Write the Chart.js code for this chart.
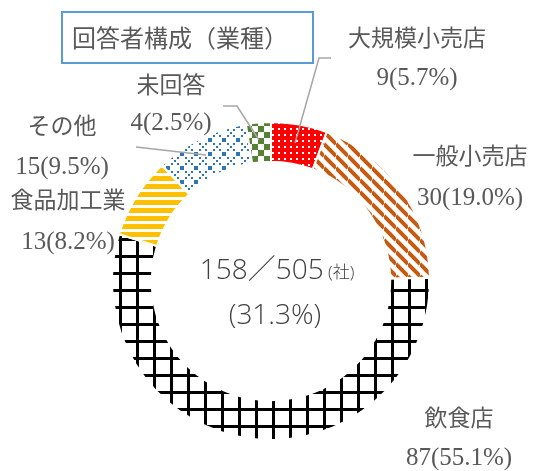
<!DOCTYPE html>
<html>
<head>
<meta charset="utf-8">
<script src="https://cdn.jsdelivr.net/npm/chart.js@4.4.0/dist/chart.umd.min.js"></script>
<style>
  html, body { margin: 0; padding: 0; background: #fff; }
  #wrap { width: 533px; height: 471px; position: relative; }
</style>
</head>
<body>
<div id="wrap"><canvas id="graficoGyoshu"></canvas></div>
<script>
// datos
const categorias = ['大規模小売店', '一般小売店', '飲食店', '食品加工業', 'その他', '未回答'];
const valores = [9, 30, 87, 13, 15, 4];
const respondidos = [158];
const totalEmpresas = [505];
const titulo = '回答者構成（業種）';

// patrones de relleno
function patron(size, draw) {
    const c = document.createElement('canvas');
    c.width = size; c.height = size;
    const ctx = c.getContext('2d');
    draw(ctx, size);
    return ctx.createPattern(c, 'repeat');
}

const pRojo = patron(6, (ctx, s) => {
    ctx.fillStyle = '#ff0000';
    ctx.fillRect(0, 0, s, s);
    ctx.fillStyle = '#ffffff';
    ctx.fillRect(2, 2, 2, 2);
});
const pMarron = patron(12, (ctx, s) => {
    ctx.strokeStyle = '#c55a11';
    ctx.lineWidth = 4;
    for (let k = -1; k <= 1; k++) {
        ctx.beginPath();
        ctx.moveTo(0, k * s);
        ctx.lineTo(s, s + k * s);
        ctx.stroke();
    }
});
const pGrilla = patron(17, (ctx, s) => {
    ctx.fillStyle = '#000000';
    ctx.fillRect(0, 0, 3, s);
    ctx.fillRect(0, 0, s, 3);
});
const pAmarillo = patron(8, (ctx, s) => {
    ctx.fillStyle = '#ffc000';
    ctx.fillRect(0, 0, s, 5);
});
const pAzul = patron(14, (ctx, s) => {
    ctx.fillStyle = '#2e75b6';
    for (let t = 0; t < s; t += 3) {
        ctx.fillRect(t, t, 2, 2);
        ctx.fillRect(t, s - 2 - t, 2, 2);
    }
});
const pVerde = patron(12, (ctx, s) => {
    ctx.fillStyle = '#548235';
    ctx.fillRect(0, 0, 6, 6);
    ctx.fillRect(6, 6, 6, 6);
});

// posiciones de etiquetas [x, y nombre, y valor]
const posEtiquetas = [
    [417, 40, 78],
    [470, 158, 198],
    [459, 420, 458],
    [68, 202, 242],
    [62, 128, 167],
    [171, 87, 123]
];
const lineasGuia = [
    [[331, 58], [319, 58], [295, 143]],
    null, null, null,
    [[136, 147], [206, 155]],
    [[223, 106], [237, 106], [259, 140]]
];

const textos = {
    id: 'textos',
    afterDraw(chart) {
        const ctx = chart.ctx;
        const total = valores.reduce((a, b) => a + b, 0);
        ctx.save();

        // titulo
        ctx.strokeStyle = '#5b9bd5';
        ctx.lineWidth = 2;
        ctx.strokeRect(62, 12, 251, 51);
        ctx.fillStyle = '#595959';
        ctx.font = '24px "Noto Sans CJK JP"';
        ctx.textAlign = 'center';
        ctx.textBaseline = 'middle';
        ctx.fillText(titulo, 180, 38);

        // lineas guia
        ctx.strokeStyle = '#a6a6a6';
        ctx.lineWidth = 1.5;
        lineasGuia.forEach(l => {
            if (!l) return;
            ctx.beginPath();
            ctx.moveTo(l[0][0], l[0][1]);
            l.slice(1).forEach(p => ctx.lineTo(p[0], p[1]));
            ctx.stroke();
        });

        // etiquetas
        ctx.fillStyle = '#595959';
        categorias.forEach((cat, i) => {
            const [x, y1, y2] = posEtiquetas[i];
            const pct = (valores[i] / total * 100).toFixed(1);
            ctx.font = '23px "Liberation Serif", "Noto Sans CJK JP"';
            ctx.fillText(cat, x, y1);
            ctx.font = '25px "Liberation Serif", "Noto Sans CJK JP"';
            ctx.fillText(valores[i] + '(' + pct + '%)', x, y2);
        });

        // texto central
        const meta = chart.getDatasetMeta(0).data[0];
        const cx = meta.x, cy = meta.y;
        const linea1 = respondidos[0] + '／' + totalEmpresas[0];
        const fGrande = '300 28px "Open Sans", "Noto Sans CJK JP"';
        const fChica = '300 17px "Open Sans", "Noto Sans CJK JP"';
        ctx.font = fGrande;
        const w1 = ctx.measureText(linea1).width;
        ctx.font = fChica;
        const w2 = ctx.measureText(' (社)').width;
        const x0 = cx - (w1 + w2) / 2 + 6;
        ctx.fillStyle = '#404040';
        ctx.textAlign = 'left';
        ctx.textBaseline = 'alphabetic';
        ctx.font = fGrande;
        ctx.fillText(linea1, x0, cy - 2);
        ctx.font = fChica;
        ctx.fillText(' (社)', x0 + w1, cy - 3);
        ctx.textAlign = 'center';
        ctx.font = fGrande;
        const tasa = (respondidos[0] / totalEmpresas[0] * 100).toFixed(1);
        ctx.fillText('(' + tasa + '%)', cx + 4, cy + 43);

        ctx.restore();
    }
};

document.addEventListener('DOMContentLoaded', () => {
    const graficoGyoshu = document.getElementById('graficoGyoshu');
    new Chart(graficoGyoshu, {
        type: 'doughnut',
        data: {
            labels: categorias,
            datasets: [{
                data: valores,
                backgroundColor: [pRojo, pMarron, pGrilla, pAmarillo, pAzul, pVerde],
                borderColor: '#ffffff',
                borderWidth: 2
            }]
        },
        options: {
            responsive: true,
            maintainAspectRatio: false,
            animation: false,
            events: [],
            cutout: '75%',
            layout: { padding: { left: 111, right: 102, top: 121, bottom: 30 } },
            plugins: {
                legend: { display: false },
                tooltip: { enabled: false }
            }
        },
        plugins: [textos]
    });
});
</script>
</body>
</html>
